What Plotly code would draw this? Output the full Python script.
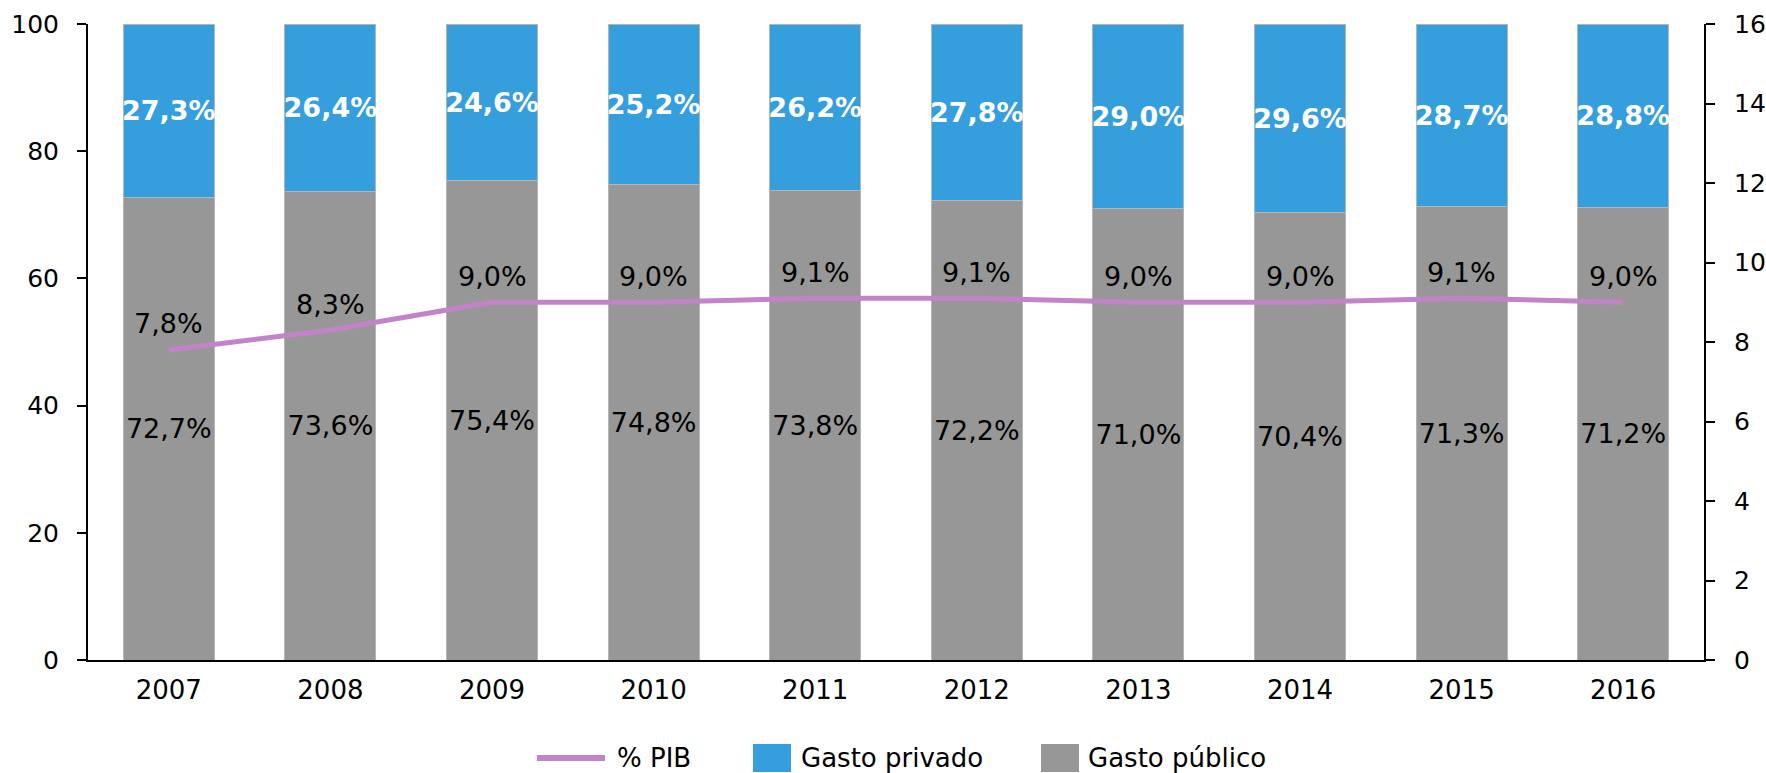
import plotly.graph_objects as go

years = [2007, 2008, 2009, 2010, 2011, 2012, 2013, 2014, 2015, 2016]
year_labels = ["2007", "2008", "2009", "2010", "2011", "2012", "2013", "2014", "2015", "2016"]
gasto_publico = [72.7, 73.6, 75.4, 74.8, 73.8, 72.2, 71.0, 70.4, 71.3, 71.2]
gasto_privado = [27.3, 26.4, 24.6, 25.2, 26.2, 27.8, 29.0, 29.6, 28.7, 28.8]
pct_pib = [7.8, 8.3, 9.0, 9.0, 9.1, 9.1, 9.0, 9.0, 9.1, 9.0]

left_ticks = [0, 20, 40, 60, 80, 100]
right_ticks = [0, 2, 4, 6, 8, 10, 12, 14, 16]


def fmt(v):
    return f"{v:.1f}".replace(".", ",") + "%"


FONT = "DejaVu Sans, Verdana, sans-serif"
BLUE = "#359EDC"
GRAY = "#979797"
PINK = "#C383C8"

W, H = 1766, 773
ML, MR, MT, MB = 88, 62, 24, 113
PW, PH = W - ML - MR, H - MT - MB


def px(xp):
    return (xp - ML) / PW


def py(yp):
    return (H - MB - yp) / PH


fig = go.Figure()

fig.add_trace(go.Bar(
    x=years, y=gasto_publico, name="Gasto público",
    marker=dict(color=GRAY, line=dict(color="#B5B5B5", width=1)),
    text=[fmt(v) for v in gasto_publico], textposition="inside",
    insidetextanchor="middle", textangle=0,
    textfont=dict(family=FONT, size=27, color="black"),
    showlegend=False, yaxis="y",
))
fig.add_trace(go.Bar(
    x=years, y=gasto_privado, name="Gasto privado",
    marker=dict(color=BLUE, line=dict(color="#B5B5B5", width=1)),
    text=[fmt(v) for v in gasto_privado], textposition="inside",
    insidetextanchor="middle", textangle=0,
    textfont=dict(family=FONT, size=27, color="white", weight="bold"),
    showlegend=False, yaxis="y",
))
fig.add_trace(go.Scatter(
    x=years, y=pct_pib, name="% PIB", mode="lines",
    line=dict(color=PINK, width=5),
    showlegend=False, yaxis="y2",
))

for yr, v in zip(years, pct_pib):
    fig.add_annotation(
        x=yr, y=v, xref="x", yref="y2", text=fmt(v), showarrow=False,
        yshift=26, font=dict(family=FONT, size=27, color="black"),
    )

# custom legend (swatches sized as in the reference)
LEG_Y = 758
fig.add_shape(type="line", xref="paper", yref="paper",
              x0=px(537), x1=px(605), y0=py(LEG_Y), y1=py(LEG_Y),
              line=dict(color=PINK, width=6))
fig.add_shape(type="rect", xref="paper", yref="paper",
              x0=px(753), x1=px(791), y0=py(LEG_Y - 14), y1=py(LEG_Y + 14),
              fillcolor=BLUE, line=dict(width=0))
fig.add_shape(type="rect", xref="paper", yref="paper",
              x0=px(1041), x1=px(1079), y0=py(LEG_Y - 14), y1=py(LEG_Y + 14),
              fillcolor=GRAY, line=dict(width=0))
for xt, label in [(615, "% PIB"), (799, "Gasto privado"), (1086, "Gasto público")]:
    fig.add_annotation(
        x=px(xt), y=py(LEG_Y), xref="paper", yref="paper", text=label,
        showarrow=False, xanchor="left", yanchor="middle",
        font=dict(family=FONT, size=26, color="black"),
    )

fig.update_layout(
    width=W, height=H,
    margin=dict(l=ML, r=MR, t=MT, b=MB, autoexpand=False),
    paper_bgcolor="white", plot_bgcolor="white",
    barmode="stack", bargap=0.437,
    uniformtext=dict(minsize=27, mode="show"),
    font=dict(family=FONT, size=25, color="black"),
    showlegend=False,
    xaxis=dict(
        type="linear", range=[years[0] - 0.5, years[-1] + 0.5],
        tickvals=years, ticktext=year_labels, automargin=False,
        showline=True, linecolor="black", linewidth=2, ticks="",
        tickfont=dict(family=FONT, size=26, color="black"),
        showgrid=False, zeroline=False, ticklabelstandoff=6,
    ),
    yaxis=dict(
        range=[0, 100], tickvals=left_ticks, showline=True, linecolor="black",
        linewidth=2, ticks="outside", ticklen=9, tickwidth=2, tickcolor="black",
        tickfont=dict(family=FONT, size=25, color="black"), automargin=False,
        showgrid=False, zeroline=False, ticklabelstandoff=13,
    ),
    yaxis2=dict(
        range=[0, 16], tickvals=right_ticks, overlaying="y", side="right",
        showline=True, linecolor="black", linewidth=2, ticks="outside",
        ticklen=9, tickwidth=2, tickcolor="black", automargin=False,
        tickfont=dict(family=FONT, size=25, color="black"),
        showgrid=False, zeroline=False, ticklabelstandoff=14,
    ),
)

fig.write_html("out.html", config={"displayModeBar": False},
               post_script="document.body.style.margin='0px';")
